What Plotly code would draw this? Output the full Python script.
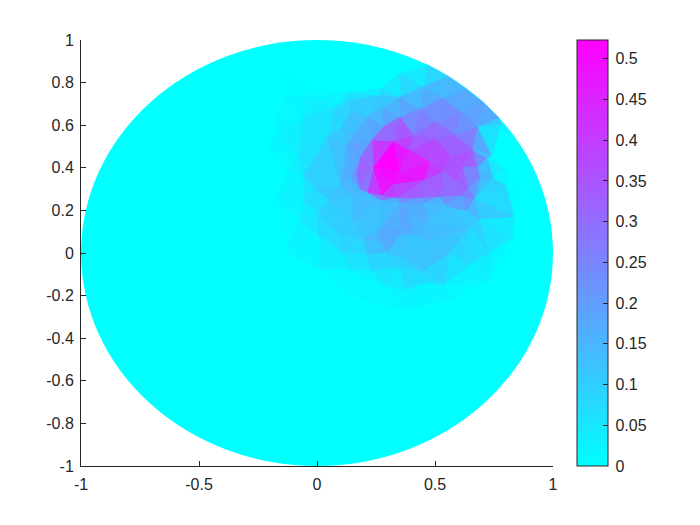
import numpy as np
import plotly.graph_objects as go

# mesh nodes: x, y and the value at each node
node_x = [.470,.555,.631,.703,.771,.839,.352,
          .449,.436,.534,.614,.682,.5,.352,.797,.746,.394,
          -.136,-.072,.013,.068,.131,.267,.280,.140,.212,.352,-.186,-.059,.106,.042,.161,-.169,-.085,.127,
          .322,.237,.271,.352,.479,.568,.661,.678,.720,.589,.619,.614,.636,.458,.453,.322,.407,.5,.585,.182,.233,.280,.140,.165,.182,.339,.534,.521,.640,.691,
          .097,.047,.212,0,.153,.267,.004,.089,.191,.267,.352,-.059,-.081,-.127,-.017,-.059,.106,.212,.297,.225,.352,.140,.297,.225,
          .669,.691,.805,.839,.733,.648,.470,.542,.394,.407,.492,.445,.564,.542,.648,.775,.352,.352,.373,.466,.831,
          .271,.153,.35,.45,.56,
          -.2,-.21,-.18,-.136,.013,.14,.352,.564,.733,.88,.88,-.157,.33,.013,.13,.267,.78,.74]
node_y = [.883,.831,.770,.709,.634,.507,.845,
          .779,.676,.728,.662,.592,.615,.732,.390,.352,.484,
          .742,.732,.732,.681,.718,.742,.685,.662,.638,.638,.624,.634,.592,.540,.563,.554,.451,.507,
          .526,.399,.268,.380,.432,.455,.484,.404,.446,.333,.404,.268,.197,.343,.258,.319,.554,.54,.554,.446,.531,.592,.352,.366,.296,.258,.380,.263,.305,.352,
          .319,.249,.282,.188,.146,.117,.085,.085,.061,.052,.117,.239,.155,.390,.310,.357,0,-.009,0,-.080,-.019,-.080,-.160,-.127,
          .258,.155,.310,.169,0,.117,.146,.225,.188,.085,.052,-.089,0,-.150,-.056,-.009,-.066,.085,-.174,-.141,.075,
          .245,.27,.235,.235,.21,
          .7,.5,.25,.01,-.08,-.2,-.27,-.22,-.127,.06,.3,.859,.906,.77,.756,.775,.60,.46]
node_v = [.02,.12,.12,.2,.14,0,0,
          .1,.2,.2,.2,.18,.28,.12,0,.05,.36,
          0,.01,.03,.04,.08,.1,.12,.12,.13,.22,0,.04,.1,.08,.15,.01,.04,.15,
          .5,.5,.5,.56,.42,.36,.34,.27,.08,.36,.36,.33,.12,.44,.3,.44,.3,.34,.27,.2,.22,.2,.18,.27,.16,.26,.34,.22,.26,.14,
          .15,.1,.18,.07,.12,.14,.05,.1,.1,.2,.2,.03,.02,0,.08,.05,.06,.08,.12,.05,.08,.03,.03,0,
          .2,.12,.02,0,.05,.1,.15,.12,.2,.12,.15,.13,.1,.03,.05,.01,.08,.18,.02,.05,0,
          .12,.12,.15,.15,.12,
          0,0,0,0,0,0,0,0,0,0,0,0,0,0,0,0,0,0]

x_ticks = [-1, -0.5, 0, 0.5, 1]
x_labels = ['-1', '-0.5', '0', '0.5', '1']
y_ticks = [-1, -0.8, -0.6, -0.4, -0.2, 0, 0.2, 0.4, 0.6, 0.8, 1]
y_labels = ['-1', '-0.8', '-0.6', '-0.4', '-0.2', '0', '0.2', '0.4', '0.6', '0.8', '1']
cbar_ticks = [0, 0.05, 0.1, 0.15, 0.2, 0.25, 0.3, 0.35, 0.4, 0.45, 0.5]
cbar_labels = ['0', '0.05', '0.1', '0.15', '0.2', '0.25', '0.3', '0.35', '0.4', '0.45', '0.5']
v_max = 0.523

text_col = '#262626'


def cool(v):
    r = min(v / v_max, 1)
    return f'rgb({round(255 * r)},{round(255 * (1 - r))},255)'


# delaunay by brute force, keep triples with an empty circumcircle
xs, ys, vs = np.array(node_x), np.array(node_y), np.array(node_v)
n = len(xs)
triangles = []
for i in range(n):
    for j in range(i + 1, n):
        for k in range(j + 1, n):
            d = 2 * (xs[i] * (ys[j] - ys[k]) + xs[j] * (ys[k] - ys[i]) + xs[k] * (ys[i] - ys[j]))
            if abs(d) < 1e-9:
                continue
            si, sj, sk = xs[i]**2 + ys[i]**2, xs[j]**2 + ys[j]**2, xs[k]**2 + ys[k]**2
            ux = (si * (ys[j] - ys[k]) + sj * (ys[k] - ys[i]) + sk * (ys[i] - ys[j])) / d
            uy = (si * (xs[k] - xs[j]) + sj * (xs[i] - xs[k]) + sk * (xs[j] - xs[i])) / d
            r2 = (xs[i] - ux)**2 + (ys[i] - uy)**2
            dist = (xs - ux)**2 + (ys - uy)**2
            dist[[i, j, k]] = r2 + 1
            if dist.min() >= r2:
                triangles.append((i, j, k))

fig = go.Figure()

# one flat coloured patch per triangle
for i, j, k in triangles:
    col = cool((vs[i] + vs[j] + vs[k]) / 3)
    fig.add_trace(go.Scatter(x=[xs[i], xs[j], xs[k], xs[i]], y=[ys[i], ys[j], ys[k], ys[i]],
                             mode='lines', fill='toself', fillcolor=col,
                             line=dict(color=col, width=0.5),
                             hoverinfo='skip', showlegend=False))

# invisible trace, only there for the colorbar
fig.add_trace(go.Scatter(x=[0], y=[0], mode='markers', hoverinfo='skip', showlegend=False,
                         marker=dict(color=[0], cmin=0, cmax=v_max, size=1, opacity=0,
                                     colorscale=[[0, '#00ffff'], [1, '#ff00ff']], showscale=True,
                                     colorbar=dict(x=1.051, xanchor='left', xpad=0, y=0.5, yanchor='middle',
                                                   ypad=0, len=1, lenmode='fraction',
                                                   thickness=31, thicknessmode='pixels',
                                                   outlinecolor=text_col, outlinewidth=1,
                                                   ticks='inside', ticklen=5, tickcolor=text_col, tickwidth=1,
                                                   tickvals=cbar_ticks,
                                                   ticktext=['\u2009' + t for t in cbar_labels],
                                                   tickfont=dict(color=text_col, size=16)))))

# the disk itself
fig.add_shape(type='circle', x0=-1, y0=-1, x1=1, y1=1, layer='below',
              fillcolor='#00ffff', line=dict(width=0))

# the page adds its own offset, margins are set to land the axes where they should be
fig.update_layout(width=700, height=525, autosize=False,
                  margin=dict(l=73, r=155, t=32, b=67),
                  paper_bgcolor='white', plot_bgcolor='white',
                  font=dict(family='Liberation Sans, Arial, sans-serif', size=16, color=text_col))
fig.update_xaxes(range=[-1, 1], tickvals=x_ticks, ticktext=x_labels, ticks='inside', ticklen=5,
                 tickcolor=text_col, showgrid=False, zeroline=False, showline=True,
                 linecolor=text_col, linewidth=1, ticklabelstandoff=4)
fig.update_yaxes(range=[-1, 1], tickvals=y_ticks, ticktext=y_labels, ticks='inside', ticklen=5,
                 tickcolor=text_col, showgrid=False, zeroline=False, showline=True,
                 linecolor=text_col, linewidth=1, ticklabelstandoff=3)

fig.write_html("out.html")
